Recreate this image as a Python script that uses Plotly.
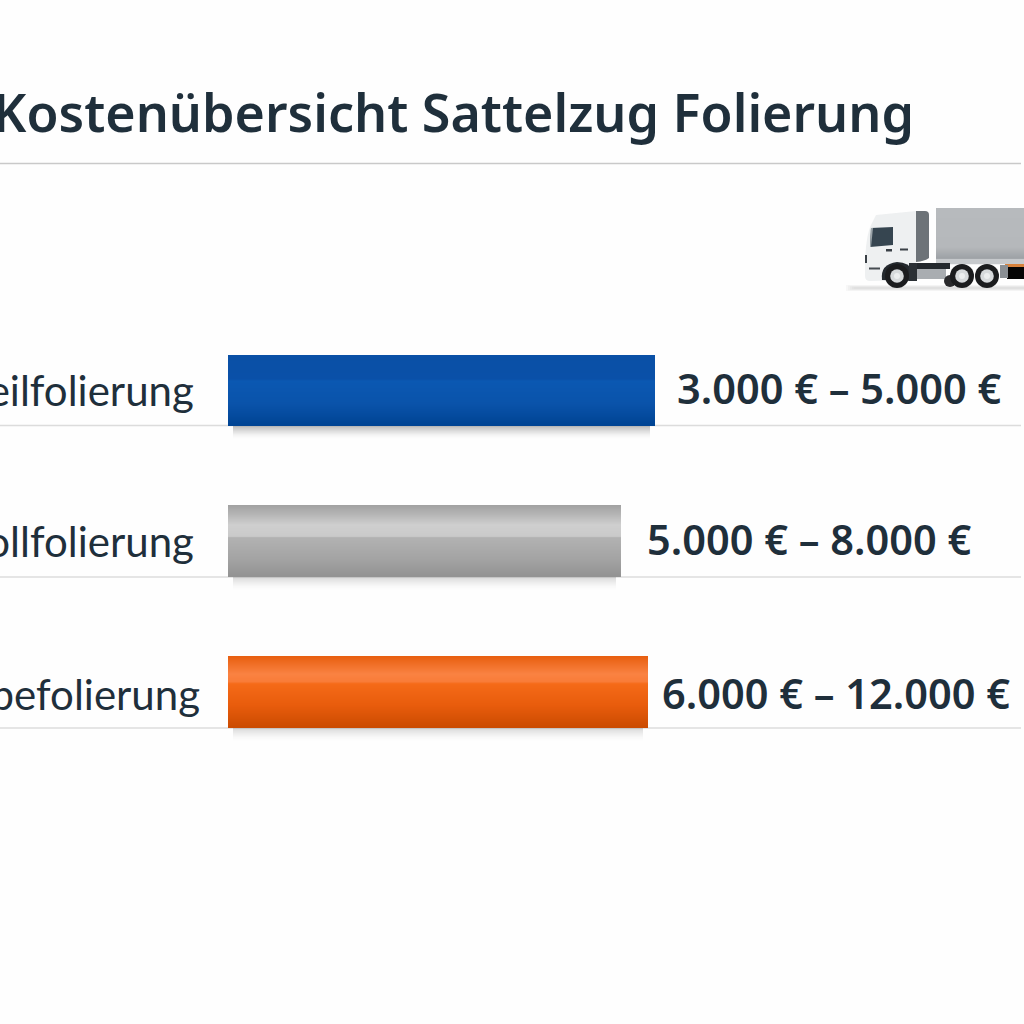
import plotly.graph_objects as go

categories = ["Teilfolierung", "Vollfolierung", "Werbefolierung"]
price_labels = ["3.000 € – 5.000 €", "5.000 € – 8.000 €", "6.000 € – 12.000 €"]
bar_lengths = [427, 393, 420]
row_positions = [390.5, 541.5, 692.5]
bar_heights = [70, 71, 71]
label_ends = [196, 196, 202]
label_centres = [389.5, 540.5, 694]
price_ends = [1003, 973, 1012]
price_centres = [387.5, 539, 692.5]
title_text = "Kostenübersicht Sattelzug Folierung"

BAR_START = 228
INK = "#1f2f3b"
TITLE_FONT = "Noto Sans"
gradients = [
    [(0, "#0a50a6"), (.34, "#0a50a8"), (.37, "#0b58b2"), (.7, "#0a53aa"), (1, "#004494")],
    [(0, "#a2a2a2"), (.12, "#b4b4b4"), (.28, "#cfcfcf"), (.44, "#cacaca"), (.46, "#b2b2b2"), (.75, "#a4a4a4"), (1, "#939393")],
    [(0, "#e85f10"), (.25, "#fa8242"), (.36, "#f97c38"), (.39, "#f56a18"), (.7, "#e85c0c"), (1, "#cc4c02")],
]


def hex_rgb(c):
    return tuple(int(c[i:i + 2], 16) for i in (1, 3, 5))


def ramp(stops, t):
    for (a, ca), (b, cb) in zip(stops, stops[1:]):
        if t <= b:
            f = (t - a) / (b - a)
            ra, rb = hex_rgb(ca), hex_rgb(cb)
            return "rgb(%d,%d,%d)" % tuple(round(x + (y - x) * f) for x, y in zip(ra, rb))
    return stops[-1][1]


fig = go.Figure()
shapes = []
# row rules and heading rule
for yy, col in [(163.5, "#c9c9c9")] + [(p + h / 2, "#dcdcdc") for p, h in zip(row_positions, bar_heights)]:
    shapes.append(dict(type="line", xref="x", yref="y", x0=0, x1=1021, y0=yy, y1=yy,
                       line=dict(color=col, width=1.4), layer="below"))

# bars: each drawn as thin strips to give the vertical sheen
for name, length, pos, h, stops in zip(categories, bar_lengths, row_positions, bar_heights, gradients):
    ys, cols = [], []
    top = pos - h / 2
    for i in range(h):
        ys.append(top + i + .5)
        cols.append(ramp(stops, i / (h - 1)))
    # soft shadow beneath
    sy, sc = [], []
    for i in range(13):
        sy.append(top + h + i + .5)
        sc.append("rgba(60,60,60,%.3f)" % (.19 * (1 - i / 13) ** 1.6))
    fig.add_bar(y=sy, x=[length - 10] * len(sy), base=BAR_START + 5, width=[1.02] * len(sy), orientation="h",
                marker=dict(color=sc, line=dict(width=0)), showlegend=False, hoverinfo="skip")
    fig.add_bar(y=ys, x=[length] * h, base=BAR_START, width=[1.25] * h, orientation="h", name=name,
                marker=dict(color=cols, line=dict(width=0)), showlegend=False)

annotations = []
for name, price, le, lc, pe, pc in zip(categories, price_labels, label_ends, label_centres, price_ends, price_centres):
    annotations.append(dict(x=le, y=lc, xref="x", yref="y", text=name, showarrow=False, xanchor="right",
                            yanchor="middle", font=dict(family="Lato", size=42, color=INK)))
    annotations.append(dict(x=pe, y=pc, xref="x", yref="y", text=price, showarrow=False, xanchor="right",
                            yanchor="middle", font=dict(family=TITLE_FONT, size=41.5, color=INK, weight=600)))

# ---- truck illustration (decorative, drawn as page-unit shapes) ----
def rect(x0, y0, x1, y1, fill):
    shapes.append(dict(type="rect", xref="x", yref="y", x0=x0, x1=x1, y0=y0, y1=y1,
                       fillcolor=fill, line=dict(width=0)))


def path(d, fill):
    shapes.append(dict(type="path", xref="x", yref="y", path=d, fillcolor=fill, line=dict(width=0)))


def circle(cx, cy, r, fill):
    shapes.append(dict(type="circle", xref="x", yref="y", x0=cx - r, x1=cx + r, y0=cy - r, y1=cy + r,
                       fillcolor=fill, line=dict(width=0)))


for i in range(6):
    shapes.append(dict(type="rect", xref="x", yref="y", x0=846 + i * 2, x1=1024, y0=285 + i * .6, y1=291 - i * .6,
                       fillcolor="rgba(120,120,120,0.05)", line=dict(width=0)))
trailer = [(0, "#b7babd"), (.7, "#b5b8bb"), (.9, "#9ea2a6"), (1, "#c9cccf")]
for i in range(56):
    rect(936, 208 + i, 1024, 209.2 + i, ramp(trailer, i / 55))
rect(936, 259, 1024, 264, "#c6c9cc")
rect(1005, 264, 1024, 267, "#d8823c")
rect(1007, 267, 1024, 279, "#050505")
rect(1000, 265, 1008, 278, "#8a8f94")
rect(909, 263, 950, 269, "#23282d")
rect(917, 269, 946, 279, "#a9adb1")
path("M 916 211 L 925 211 Q 929 211 929 215 L 929 258 Q 925 261 916 262 Z", "#6d7378")
path("M 876 215 L 916 211 L 916 262 L 912 270 L 909 280 L 870 281 Q 865 281 865 276 L 865 262 Q 866 235 871 225 Z", "#eef0f1")
path("M 871 228 L 893 227 L 893 245 L 870 247 Z", "#364550")
path("M 871 228 L 873 228 L 871 247 L 870 247 Z", "#9aa3a8")
rect(886, 249, 892, 251.5, "#3a4046")
rect(900, 248.5, 908, 250.5, "#3a4046")
rect(865, 255, 867, 263, "#3a4046")
rect(869, 267.5, 880, 269.5, "#454b50")
path("M 882 280 Q 880 264 897 262 Q 909 262 914 272 L 914 281 Z", "#24292e")
rect(909, 263, 917, 281, "#2b3035")
circle(950, 281, 6, "#2a2a2c")
for cx in (897, 962, 987):
    circle(cx, 276, 12, "#1b1c1e")
    circle(cx, 276, 6.8, "#d7dadc")
    circle(cx, 276, 3, "#eceeef")

fig.update_layout(
    width=1024, height=1024, autosize=False, margin=dict(l=0, r=0, t=0, b=0, pad=0),
    paper_bgcolor="#fefefe", plot_bgcolor="#fefefe", barmode="overlay", bargap=0,
    title=dict(text=title_text, x=914 / 1024, xanchor="right", xref="paper", y=1 - 114 / 1024, yanchor="middle",
               yref="paper", font=dict(family=TITLE_FONT, size=52, color=INK, weight=600), pad=dict(l=0, r=0, t=0, b=0)),
    xaxis=dict(range=[0, 1024], visible=False, fixedrange=True),
    yaxis=dict(range=[1024, 0], visible=False, fixedrange=True),
    shapes=shapes, annotations=annotations, showlegend=False,
)
fig.write_html("out.html", config=dict(displayModeBar=False),
               post_script="document.body.style.margin='0';document.documentElement.style.overflow='hidden';")
